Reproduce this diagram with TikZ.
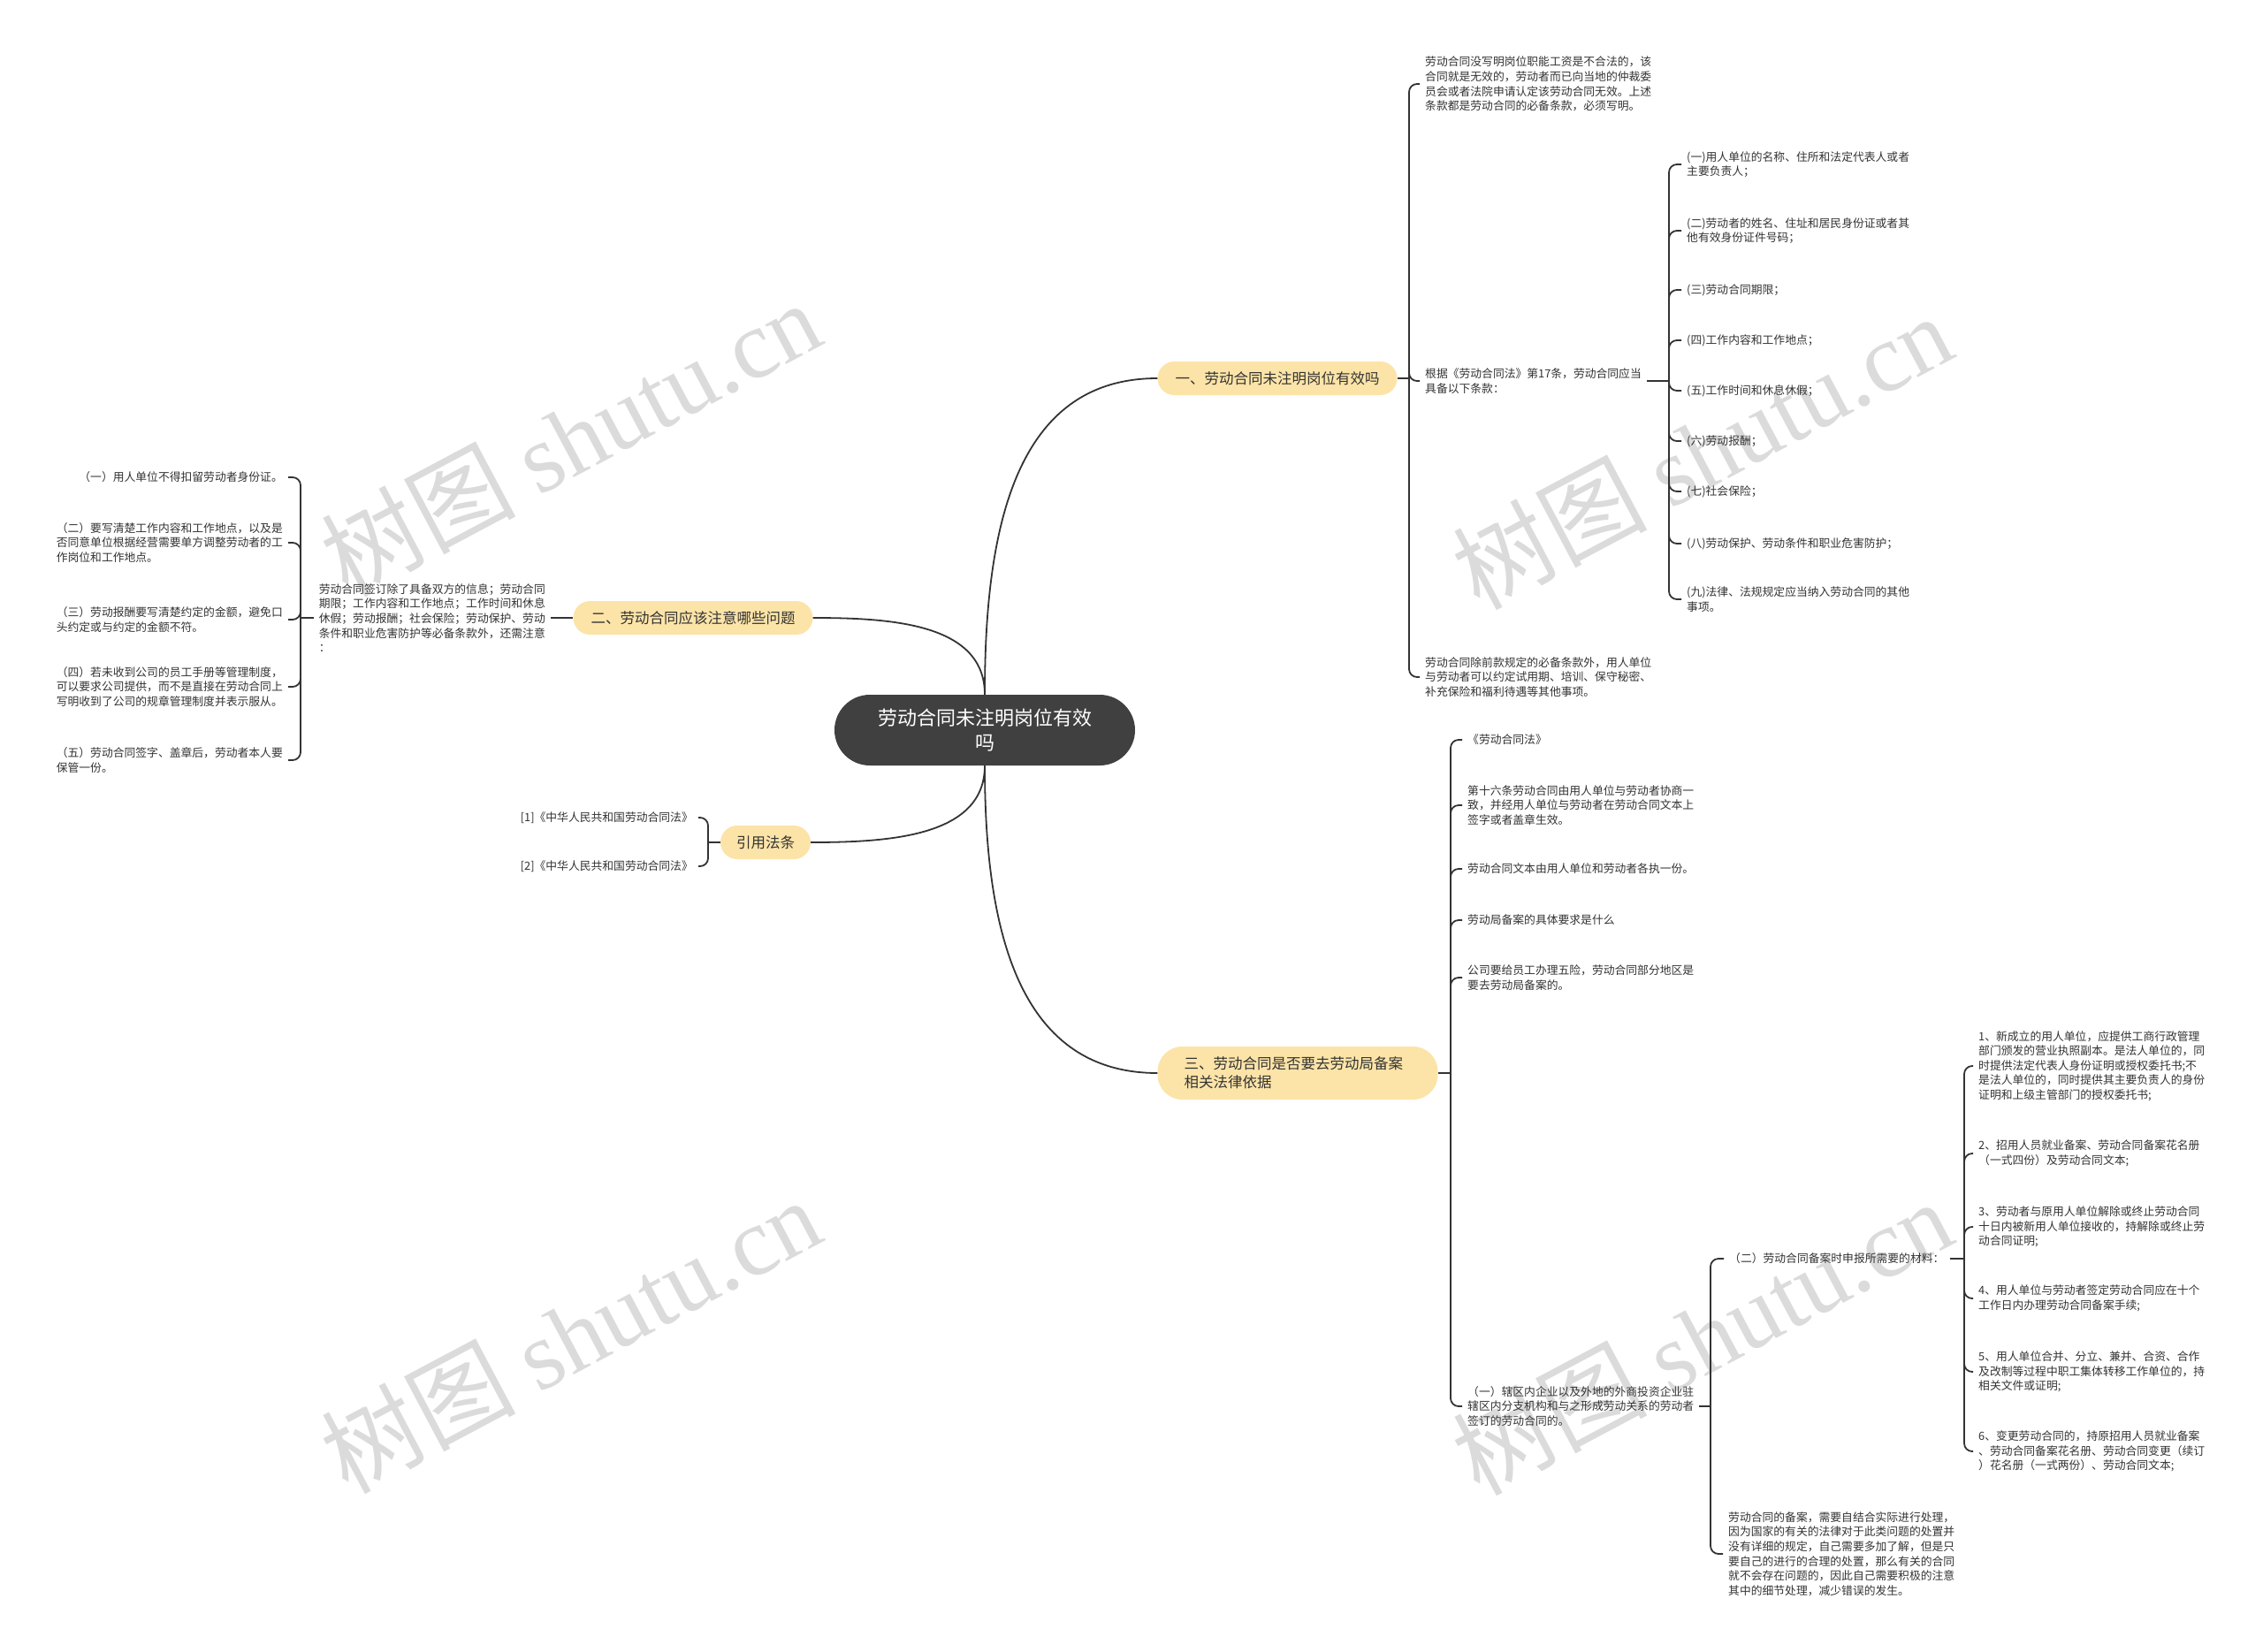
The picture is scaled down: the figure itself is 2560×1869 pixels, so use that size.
\documentclass[tikz,border=0pt]{standalone}
\usepackage{fontspec}
\setmainfont{Noto Sans CJK SC}
\newfontfamily\wmserif{Liberation Serif}
\definecolor{topicfill}{RGB}{252,228,168}
\definecolor{rootfill}{RGB}{64,64,64}
\definecolor{inkgray}{RGB}{51,51,51}
\tikzset{
  rootnode/.style={fill=rootfill, text=white, rounded corners=40pt, minimum width=340pt, minimum height=80pt, align=center, font=\fontsize{22}{28}\selectfont},
  topic/.style={fill=topicfill, text=inkgray, rounded corners=19pt, inner xsep=20pt, minimum height=38pt, font=\fontsize{16.5}{21}\selectfont},
  leaf/.style={text=inkgray, align=left, inner xsep=6pt, inner ysep=2pt, font=\fontsize{12.8}{16.6}\selectfont},
  link/.style={draw=inkgray, line width=1.8pt},
  hook/.style={link, rounded corners=9pt},
  watermark/.style={text=black!14, rotate=28, font=\fontsize{110}{110}\selectfont}
}
\begin{document}
\begin{tikzpicture}[x=1pt,y=-1pt]
    \useasboundingbox (0,0) rectangle (2560,1869);
    \fill[white] (0,0) rectangle (2560,1869);

    \node[watermark] at (645,495) {树图 {\wmserif shutu.cn}};
    \node[watermark] at (1925,510) {树图 {\wmserif shutu.cn}};
    \node[watermark] at (645,1510) {树图 {\wmserif shutu.cn}};
    \node[watermark] at (1925,1512) {树图 {\wmserif shutu.cn}};

    \node[rootnode] (root) at (1114,826) {劳动合同未注明岗位有效\\吗};
    \node[topic] (b1) at (1445,428) {一、劳动合同未注明岗位有效吗};
    \node[topic] (b2) at (784,699) {二、劳动合同应该注意哪些问题};
    \node[topic, inner xsep=30pt, rounded corners=28pt, minimum height=60pt, text width=257pt, align=left] (b3) at (1468,1214) {三、劳动合同是否要去劳动局备案\\相关法律依据};
    \node[topic, inner xsep=18pt] (b4) at (866,953) {引用法条};

    \draw[link] (root.north) .. controls +(0,-190) and +(-160,0) .. (b1.west);
    \draw[link] (root.north) .. controls +(0,-80) and +(90,0) .. (b2.east);
    \draw[link] (root.south) .. controls +(0,180) and +(-160,0) .. (b3.west);
    \draw[link] (root.south) .. controls +(0,80) and +(90,0) .. (b4.east);

    % 一
    \node[leaf, anchor=west] (a1) at (1606,95) {劳动合同没写明岗位职能工资是不合法的，该\\合同就是无效的，劳动者而已向当地的仲裁委\\员会或者法院申请认定该劳动合同无效。上述\\条款都是劳动合同的必备条款，必须写明。};
    \node[leaf, anchor=west] (a2) at (1606,431) {根据《劳动合同法》第17条，劳动合同应当\\具备以下条款：};
    \node[leaf, anchor=west] (a3) at (1606,766) {劳动合同除前款规定的必备条款外，用人单位\\与劳动者可以约定试用期、培训、保守秘密、\\补充保险和福利待遇等其他事项。};
    \coordinate (j1) at (1594,428);
    \draw[link] (b1.east) -- (j1);
    \foreach \n in {a1,a2,a3} \draw[hook] (j1) |- (\n.west);

    \node[leaf, anchor=west] (c1) at (1902,186) {(一)用人单位的名称、住所和法定代表人或者\\主要负责人；};
    \node[leaf, anchor=west] (c2) at (1902,261) {(二)劳动者的姓名、住址和居民身份证或者其\\他有效身份证件号码；};
    \node[leaf, anchor=west] (c3) at (1902,328) {(三)劳动合同期限；};
    \node[leaf, anchor=west] (c4) at (1902,385) {(四)工作内容和工作地点；};
    \node[leaf, anchor=west] (c5) at (1902,442) {(五)工作时间和休息休假；};
    \node[leaf, anchor=west] (c6) at (1902,499) {(六)劳动报酬；};
    \node[leaf, anchor=west] (c7) at (1902,556) {(七)社会保险；};
    \node[leaf, anchor=west] (c8) at (1902,615) {(八)劳动保护、劳动条件和职业危害防护；};
    \node[leaf, anchor=west] (c9) at (1902,678) {(九)法律、法规规定应当纳入劳动合同的其他\\事项。};
    \coordinate (j2) at (1888,431);
    \draw[link] (a2.east) -- (j2);
    \foreach \n in {c1,c2,c3,c4,c5,c6,c7,c8,c9} \draw[hook] (j2) |- (\n.west);

    % 二
    \node[leaf, anchor=east] (d0) at (623,699) {劳动合同签订除了具备双方的信息；劳动合同\\期限；工作内容和工作地点；工作时间和休息\\休假；劳动报酬；社会保险；劳动保护、劳动\\条件和职业危害防护等必备条款外，还需注意\\：};
    \draw[link] (b2.west) -- (d0.east);
    \node[leaf, anchor=east] (d1) at (326,540) {（一）用人单位不得扣留劳动者身份证。};
    \node[leaf, anchor=east] (d2) at (326,614) {（二）要写清楚工作内容和工作地点，以及是\\否同意单位根据经营需要单方调整劳动者的工\\作岗位和工作地点。};
    \node[leaf, anchor=east] (d3) at (326,701) {（三）劳动报酬要写清楚约定的金额，避免口\\头约定或与约定的金额不符。};
    \node[leaf, anchor=east] (d4) at (326,777) {（四）若未收到公司的员工手册等管理制度，\\可以要求公司提供，而不是直接在劳动合同上\\写明收到了公司的规章管理制度并表示服从。};
    \node[leaf, anchor=east] (d5) at (326,860) {（五）劳动合同签字、盖章后，劳动者本人要\\保管一份。};
    \coordinate (j4) at (340,699);
    \draw[link] (d0.west) -- (j4);
    \foreach \n in {d1,d2,d3,d4,d5} \draw[hook] (j4) |- (\n.east);

    % 引用法条
    \node[leaf, anchor=east] (e1) at (790,925) {[1]《中华人民共和国劳动合同法》};
    \node[leaf, anchor=east] (e2) at (790,980) {[2]《中华人民共和国劳动合同法》};
    \coordinate (j5) at (801,953);
    \draw[link] (b4.west) -- (j5);
    \foreach \n in {e1,e2} \draw[hook] (j5) |- (\n.east);

    % 三
    \node[leaf, anchor=west] (f1) at (1654,837) {《劳动合同法》};
    \node[leaf, anchor=west] (f2) at (1654,911) {第十六条劳动合同由用人单位与劳动者协商一\\致，并经用人单位与劳动者在劳动合同文本上\\签字或者盖章生效。};
    \node[leaf, anchor=west] (f3) at (1654,983) {劳动合同文本由用人单位和劳动者各执一份。};
    \node[leaf, anchor=west] (f4) at (1654,1041) {劳动局备案的具体要求是什么};
    \node[leaf, anchor=west] (f5) at (1654,1106) {公司要给员工办理五险，劳动合同部分地区是\\要去劳动局备案的。};
    \node[leaf, anchor=west] (f6) at (1654,1591) {（一）辖区内企业以及外地的外商投资企业驻\\辖区内分支机构和与之形成劳动关系的劳动者\\签订的劳动合同的。};
    \coordinate (j3) at (1641,1214);
    \draw[link] (b3.east) -- (j3);
    \foreach \n in {f1,f2,f3,f4,f5,f6} \draw[hook] (j3) |- (\n.west);

    \node[leaf, anchor=west] (g1) at (1950,1424) {（二）劳动合同备案时申报所需要的材料：};
    \node[leaf, anchor=west] (g2) at (1949,1758) {劳动合同的备案，需要自结合实际进行处理，\\因为国家的有关的法律对于此类问题的处置并\\没有详细的规定，自己需要多加了解，但是只\\要自己的进行的合理的处置，那么有关的合同\\就不会存在问题的，因此自己需要积极的注意\\其中的细节处理，减少错误的发生。};
    \coordinate (j6) at (1935,1591);
    \draw[link] (f6.east) -- (j6);
    \foreach \n in {g1,g2} \draw[hook] (j6) |- (\n.west);

    \node[leaf, anchor=west] (h1) at (2232,1206) {1、新成立的用人单位，应提供工商行政管理\\部门颁发的营业执照副本。是法人单位的，同\\时提供法定代表人身份证明或授权委托书;不\\是法人单位的，同时提供其主要负责人的身份\\证明和上级主管部门的授权委托书;};
    \node[leaf, anchor=west] (h2) at (2232,1305) {2、招用人员就业备案、劳动合同备案花名册\\（一式四份）及劳动合同文本;};
    \node[leaf, anchor=west] (h3) at (2232,1388) {3、劳动者与原用人单位解除或终止劳动合同\\十日内被新用人单位接收的，持解除或终止劳\\动合同证明;};
    \node[leaf, anchor=west] (h4) at (2232,1469) {4、用人单位与劳动者签定劳动合同应在十个\\工作日内办理劳动合同备案手续;};
    \node[leaf, anchor=west] (h5) at (2232,1552) {5、用人单位合并、分立、兼并、合资、合作\\及改制等过程中职工集体转移工作单位的，持\\相关文件或证明;};
    \node[leaf, anchor=west] (h6) at (2232,1642) {6、变更劳动合同的，持原招用人员就业备案\\、劳动合同备案花名册、劳动合同变更（续订\\）花名册（一式两份）、劳动合同文本;};
    \coordinate (j7) at (2222,1424);
    \draw[link] (g1.east) -- (j7);
    \foreach \n in {h1,h2,h3,h4,h5,h6} \draw[hook] (j7) |- (\n.west);
\end{tikzpicture}
\end{document}
